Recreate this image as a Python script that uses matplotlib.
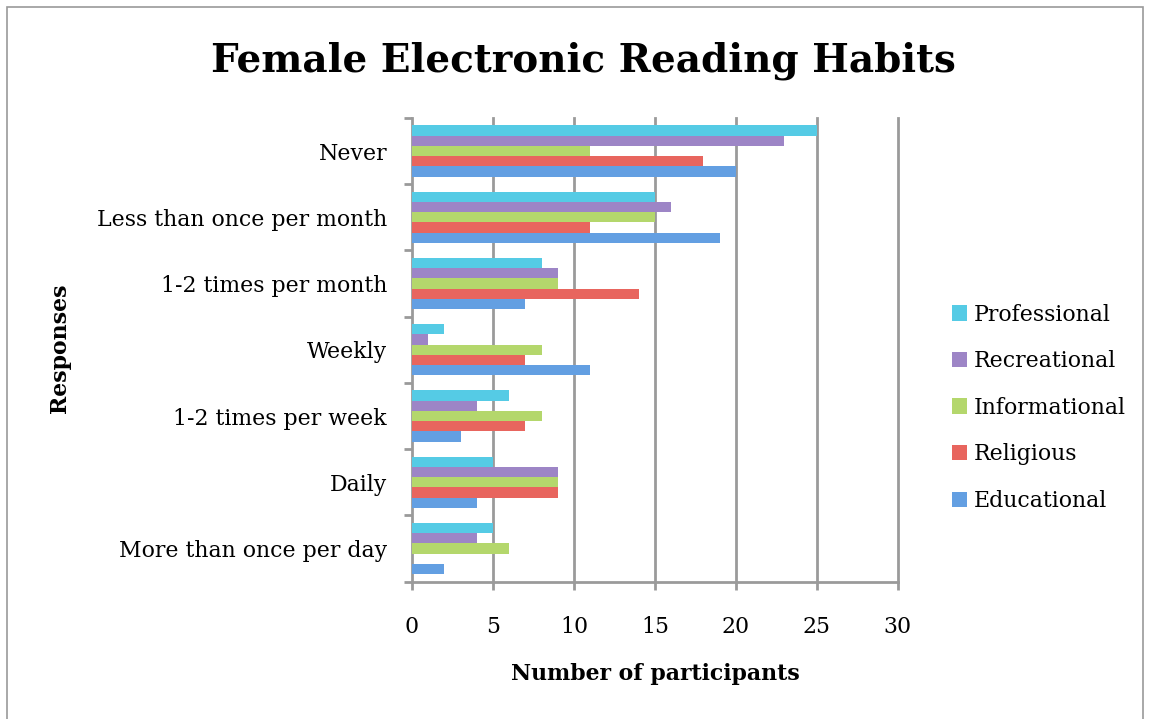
import numpy as np
import matplotlib.pyplot as plt
from matplotlib.patches import Rectangle

# Datos
categorias = ['Never', 'Less than once per month', '1-2 times per month', 'Weekly',
              '1-2 times per week', 'Daily', 'More than once per day']
series = ['Professional', 'Recreational', 'Informational', 'Religious', 'Educational']
professional = [25, 15, 8, 2, 6, 5, 5]
recreational = [23, 16, 9, 1, 4, 9, 4]
informational = [11, 15, 9, 8, 8, 9, 6]
religious = [18, 11, 14, 7, 7, 9, 0]
educational = [20, 19, 7, 11, 3, 4, 2]
colores = ['#55CBE5', '#9D85C6', '#B4D76C', '#E8655E', '#639FE2']

valores = [professional, recreational, informational, religious, educational]

plt.rcParams['font.family'] = ['DejaVu Serif']

fig = plt.figure(figsize=(11.51, 7.19), dpi=100)
ax = fig.add_axes([0.358, 0.191, 0.422, 0.645])

# Borde exterior del gráfico
fig.patches.append(Rectangle((0.006, -0.05), 0.987, 1.04, transform=fig.transFigure,
                             fill=False, edgecolor='#9a9a9a', linewidth=1.2))

n_cat = len(categorias)
pos = np.arange(n_cat)[::-1]  # Never arriba
alto = 0.155
for i, (nombre, vals) in enumerate(zip(series, valores)):
    offset = (2 - i) * alto
    ax.barh(pos + offset, vals, height=alto, color=colores[i], label=nombre,
            edgecolor='none', zorder=3)

ax.set_xlim(0, 30)
ax.set_ylim(-0.5, n_cat - 0.5)
ax.set_xticks(range(0, 31, 5))
ax.set_yticks(pos)
ax.set_yticklabels(categorias, fontsize=15.8)
ax.tick_params(axis='x', labelsize=15.8, length=6, color='#9a9a9a', width=2, pad=19)
ax.tick_params(axis='y', length=0, pad=18)

# Marcas menores en los límites de categoría
ax.set_yticks(np.arange(-0.5, n_cat, 1), minor=True)
ax.tick_params(axis='y', which='minor', length=6, color='#9a9a9a', width=2)

# Líneas de cuadrícula verticales
for xv in range(5, 31, 5):
    ax.axvline(xv, color='#9a9a9a', linewidth=2, zorder=0, clip_on=False)
for lado in ['top', 'right']:
    ax.spines[lado].set_visible(False)
for lado in ['left', 'bottom']:
    ax.spines[lado].set_color('#9a9a9a')
    ax.spines[lado].set_linewidth(2)

fig.text(0.507, 0.916, 'Female Electronic Reading Habits', ha='center', va='center',
         fontsize=28, fontweight='bold')
ax.set_xlabel('Number of participants', fontsize=15.8, fontweight='bold', labelpad=18)
fig.text(0.052, 0.515, 'Responses', rotation=90, ha='center', va='center',
         fontsize=15.8, fontweight='bold')

handles, labels = ax.get_legend_handles_labels()
ax.legend(handles, labels, loc='center left', bbox_to_anchor=(1.07, 0.375),
          frameon=False, fontsize=15.8, handlelength=0.7, handleheight=0.7,
          handletextpad=0.3, labelspacing=1.12)

fig.savefig('out.png', dpi=100)
